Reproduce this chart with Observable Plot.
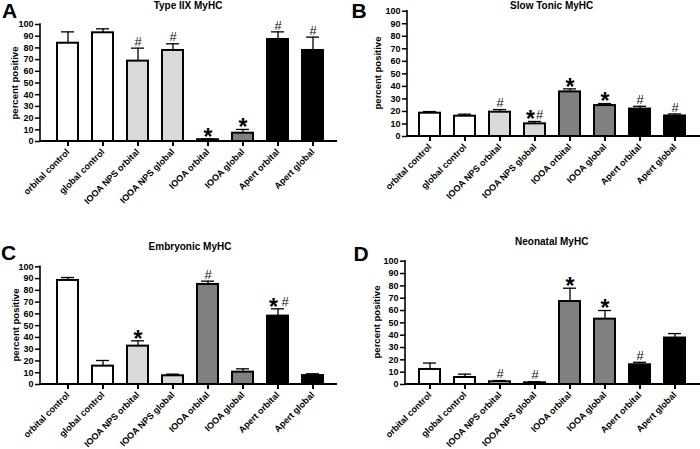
<!DOCTYPE html>
<html><head><meta charset="utf-8">
<script src="https://cdn.jsdelivr.net/npm/d3@7"></script>
<script src="https://cdn.jsdelivr.net/npm/@observablehq/plot@0.6"></script>
<style>
body{margin:0;background:#fff;}
#root{position:relative;width:700px;height:449px;overflow:hidden;font-family:"Liberation Sans",Arial,sans-serif;color:#000;}
.panel{position:absolute;}
.panel svg{overflow:visible;}
.title{position:absolute;font-weight:bold;font-size:10px;line-height:1;transform:translateX(-50%);white-space:nowrap;}
.letter{position:absolute;font-weight:bold;font-size:21px;line-height:1;}
.ylab{position:absolute;font-weight:bold;font-size:9.5px;line-height:1;white-space:nowrap;transform:translate(-50%,-50%) rotate(-90deg);}
</style></head><body><div id="root"></div>
<script>
// ---- data ----
const categories = ["orbital control","global control","IOOA NPS orbital","IOOA NPS global","IOOA orbital","IOOA global","Apert orbital","Apert global"];
const groups = ["control","control","IOOA NPS","IOOA NPS","IOOA","IOOA","Apert","Apert"];
const groupNames = ["control","IOOA NPS","IOOA","Apert"];
const yTicks = [0,10,20,30,40,50,60,70,80,90,100];
const titles = ["Type IIX MyHC","Slow Tonic MyHC","Embryonic MyHC","Neonatal MyHC"];
const letters = ["A","B","C","D"];
const yLabel = "percent positive";

const typeIIXMean  = [84.0, 92.9, 68.7, 77.8, 1.5, 7.1, 87.2, 77.8];
const typeIIXUpper = [93.7, 96.3, 79.8, 83.5, 2.3, 10.3, 93.7, 89.2];
const typeIIXSig   = ["", "", "#", "#", "*", "*", "#", "#"];

const slowTonicMean  = [18.6, 16.2, 19.4, 10.1, 35.6, 24.7, 21.9, 16.4];
const slowTonicUpper = [19.9, 17.8, 21.5, 12.0, 38.0, 26.3, 24.1, 18.0];
const slowTonicSig   = ["", "", "#", "*#", "*", "*", "#", "#"];

const embryonicMean  = [88.4, 15.6, 32.6, 7.4, 85.0, 10.5, 58.1, 7.6];
const embryonicUpper = [90.9, 20.4, 37.1, 8.8, 87.8, 13.3, 64.3, 9.1];
const embryonicSig   = ["", "", "*", "", "#", "", "*#", ""];

const neonatalMean  = [12.2, 5.7, 2.2, 1.35, 67.3, 53.0, 16.0, 37.7];
const neonatalUpper = [17.4, 8.4, 3.2, 2.2, 78.1, 60.0, 18.0, 41.3];
const neonatalSig   = ["", "", "#", "#", "*", "*", "#", ""];

// ---- styling / layout ----
const FONT = '"Liberation Sans", Arial, sans-serif';
const groupColors = ["#ffffff", "#d9d9d9", "#808080", "#000000"];

const panels = [
  {mean: typeIIXMean, upper: typeIIXUpper, sig: typeIIXSig, left: 0, top: 0, width: 345, height: 225,
   marginLeft: 40, marginTop: 24, marginBottom: 84, marginRight: 8, xr: [49.8, 329.8], gapS: -4.5, gapH: 4.5,
   title: {x: 188, y: 0.5}, letter: {x: 2, y: 0}, ylab: {x: 15, y: 82.5}},
  {mean: slowTonicMean, upper: slowTonicUpper, sig: slowTonicSig, left: 350, top: 0, width: 350, height: 225,
   marginLeft: 57, marginTop: 10.7, marginBottom: 89, marginRight: 0, xr: [61.8, 341.8], gapS: -4.5, gapH: 4.5,
   title: {x: 551.7, y: 0.5}, letter: {x: 351.5, y: 0}, ylab: {x: 378, y: 73.3}},
  {mean: embryonicMean, upper: embryonicUpper, sig: embryonicSig, left: 0, top: 230, width: 345, height: 219,
   marginLeft: 40, marginTop: 36.3, marginBottom: 65, marginRight: 8, xr: [49.8, 329.8], gapS: -4.5, gapH: 7,
   title: {x: 190, y: 241.7}, letter: {x: 1, y: 242.2}, ylab: {x: 15.8, y: 325}},
  {mean: neonatalMean, upper: neonatalUpper, sig: neonatalSig, left: 350, top: 230, width: 350, height: 219,
   marginLeft: 55, marginTop: 30.7, marginBottom: 65, marginRight: 0, xr: [61.25, 342.05], gapS: -4.5, gapH: 4.5,
   title: {x: 551.7, y: 236.7}, letter: {x: 353.5, y: 243.2}, ylab: {x: 377.4, y: 322.4}}
];

function axisLines(index, scales, values, dims) {
  const g = d3.create("svg:g").attr("stroke", "#000").attr("fill", "none");
  const x0 = dims.marginLeft, x1 = dims.width - dims.marginRight;
  const y0 = scales.y(0), y1 = scales.y(100);
  g.append("line").attr("x1", x0).attr("x2", x0).attr("y1", y0 + 1).attr("y2", y1 - 0.75).attr("stroke-width", 1.6);
  g.append("line").attr("x1", x0).attr("x2", x1).attr("y1", y0).attr("y2", y0).attr("stroke-width", 2);
  return g.node();
}

const root = document.getElementById("root");

function addDiv(cls, text, x, y) {
  const d = document.createElement("div");
  d.className = cls;
  d.textContent = text;
  d.style.left = x + "px";
  d.style.top = y + "px";
  root.appendChild(d);
}

panels.forEach((p, i) => {
  const rows = categories.map((c, j) => ({cat: c, group: groups[j], mean: p.mean[j], upper: p.upper[j], sig: p.sig[j]}));
  const chart = Plot.plot({
    width: p.width, height: p.height,
    marginLeft: p.marginLeft, marginTop: p.marginTop, marginBottom: p.marginBottom, marginRight: p.marginRight,
    style: {fontFamily: FONT, background: "transparent", color: "#000"},
    x: {domain: categories, range: p.xr, paddingInner: 0.4, paddingOuter: 0.2},
    y: {domain: [0, 100]},
    color: {domain: groupNames, range: groupColors},
    marks: [
      Plot.ruleX(rows, {x: "cat", y1: "mean", y2: "upper", stroke: "#000", strokeWidth: 1.3}),
      Plot.tickY(rows, {x: "cat", y: "upper", stroke: "#000", strokeWidth: 1.3, insetLeft: 4, insetRight: 4}),
      Plot.barY(rows, {x: "cat", y: "mean", fill: "group", stroke: "#000", strokeWidth: 2}),
      Plot.text(rows.filter(d => d.sig === "*"), {x: "cat", y: "upper", text: () => "*", fontSize: 23, fontWeight: "bold", dy: -1.5}),
      Plot.text(rows.filter(d => d.sig === "#"), {x: "cat", y: "upper", text: () => "#", fontSize: 13, fill: "#111", dy: -6.5}),
      Plot.text(rows.filter(d => d.sig === "*#"), {x: "cat", y: "upper", text: () => "*", fontSize: 23, fontWeight: "bold", dy: -1.5, dx: p.gapS}),
      Plot.text(rows.filter(d => d.sig === "*#"), {x: "cat", y: "upper", text: () => "#", fontSize: 13, fill: "#111", dy: -6.5, dx: p.gapH}),
      Plot.axisY({ticks: yTicks, tickSize: 5, tickPadding: 2, fontSize: 9, fontWeight: "bold", strokeWidth: 1.5, label: null}),
      Plot.axisX({tickRotate: -45, tickSize: 5, tickPadding: 4, fontSize: 9, fontWeight: "bold", strokeWidth: 2, label: null}),
      axisLines
    ]
  });
  const wrap = document.createElement("div");
  wrap.className = "panel";
  wrap.style.left = p.left + "px";
  wrap.style.top = p.top + "px";
  wrap.appendChild(chart);
  root.appendChild(wrap);

  addDiv("title", titles[i], p.title.x, p.title.y);
  addDiv("letter", letters[i], p.letter.x, p.letter.y);
  addDiv("ylab", yLabel, p.ylab.x, p.ylab.y);
});
</script>
</body></html>
